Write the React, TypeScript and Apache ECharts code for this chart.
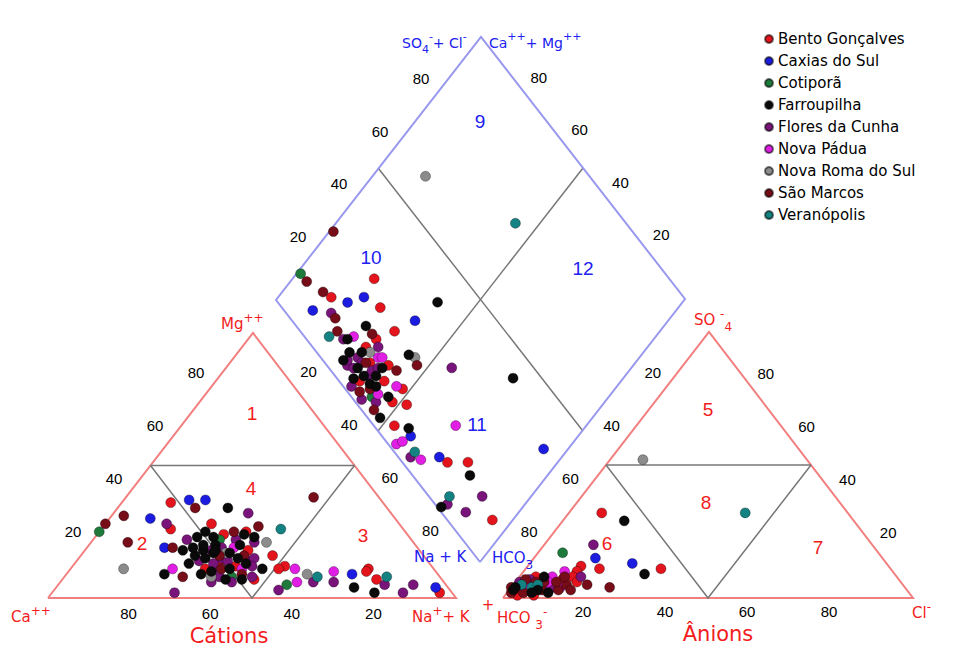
import React, { useEffect, useRef } from "react";
import * as echarts from "echarts";

// ---------------- DATA ----------------
const cities = [
  "Bento Gonçalves",
  "Caxias do Sul",
  "Cotiporã",
  "Farroupilha",
  "Flores da Cunha",
  "Nova Pádua",
  "Nova Roma do Sul",
  "São Marcos",
  "Veranópolis",
];
const cityColors = [
  "#e3141c",
  "#1c1ce0",
  "#1d7a3a",
  "#0a0a0a",
  "#78147a",
  "#e01ee4",
  "#8c8c8c",
  "#760d18",
  "#148282",
];

const tickValues = [20, 40, 60, 80];

// cation triangle: [city, Ca%, Mg%, Na+K%]
const cationSamples: number[][] = [
  [7, 16, 38, 46], [0, 52, 36, 12], [1, 47, 37, 16], [1, 43, 37, 20], [7, 47, 34, 19],
  [3, 39, 34, 27], [4, 35, 32, 33], [7, 66, 31, 3], [1, 60, 30, 10], [4, 57, 28, 15],
  [0, 57, 26, 17], [0, 46, 28, 26], [7, 35, 27, 38], [8, 30, 26, 44], [7, 72, 28, 0],
  [2, 75, 25, 0], [7, 70, 21, 9], [1, 62, 19, 19], [7, 60, 19, 21], [6, 76, 11, 13],
  [3, 67, 9, 24], [5, 64, 11, 25], [7, 63, 8, 29], [4, 68, 2, 30], [3, 58, 18, 24],
  [4, 55, 22, 23], [3, 52, 23, 25], [3, 49, 25, 26], [3, 48, 23, 29], [0, 45, 24, 31],
  [7, 42, 25, 33], [3, 40, 24, 36], [0, 39, 25, 36], [3, 38, 23, 39], [3, 49, 20, 31],
  [4, 51, 18, 31], [6, 48, 17, 35], [5, 45, 19, 36], [3, 43, 20, 37], [0, 42, 18, 40],
  [4, 39, 21, 40], [2, 47, 22, 31], [3, 53, 18, 29], [3, 56, 16, 28], [4, 56, 14, 30],
  [3, 54, 15, 31], [0, 51, 14, 35], [4, 50, 15, 35], [4, 49, 14, 37], [3, 46, 15, 39],
  [4, 44, 14, 42], [4, 42, 15, 43], [3, 59, 13, 28], [0, 56, 11, 33], [4, 54, 11, 35],
  [7, 52, 11, 37], [3, 50, 11, 39], [5, 47, 11, 42], [4, 44, 12, 44], [6, 56, 8, 36],
  [4, 54, 8, 38], [2, 51, 8, 41], [7, 48, 9, 43], [4, 46, 8, 46], [0, 46, 7, 47],
  [4, 57, 6, 37], [4, 52, 6, 42], [3, 49, 7, 44], [3, 53, 7, 40], [3, 55, 19, 26],
  [3, 52, 20, 28], [3, 51, 17, 32], [4, 43, 22, 35], [7, 44, 16, 40], [3, 58, 9, 33],
  [0, 48, 12, 40], [3, 50, 18, 32], [3, 47, 17, 36], [4, 53, 13, 34], [3, 45, 13, 42],
  [7, 50, 16, 34], [3, 55, 10, 35], [4, 48, 19, 33],
  [0, 37, 16, 47], [3, 42, 11, 47], [6, 36, 21, 43], [0, 36, 12, 52],
  [0, 38, 11, 51], [5, 34, 11, 55], [6, 32, 9, 59], [8, 30, 8, 62], [2, 39, 5, 56],
  [5, 36, 6, 58], [4, 42, 3, 55], [4, 32, 6, 62], [5, 25, 10, 65], [4, 27, 6, 67],
  [1, 21, 9, 70], [0, 16, 11, 73], [0, 17, 10, 73], [3, 23, 4, 73], [0, 16, 7, 77],
  [8, 13, 8, 79], [4, 15, 5, 80], [3, 19, 2, 79], [4, 12, 2, 86], [4, 8, 5, 87],
  [1, 3, 4, 93], [0, 3, 2, 95],
];

// anion triangle: [city, HCO3%, SO4%, Cl%]
const anionSamples: number[][] = [
  [6, 40, 52, 8], [8, 25, 32, 43], [0, 60, 32, 8], [3, 56, 29, 15], [2, 77, 17, 6],
  [4, 68, 20, 12], [1, 70, 15, 15], [1, 62, 13, 25], [0, 56, 11, 33], [3, 61, 9, 30],
  [0, 71, 11, 18], [7, 72, 4, 24], [0, 75, 12, 13], [4, 77, 8, 15], [7, 77, 5, 18],
  [0, 77, 10, 13], [7, 97, 2, 1], [3, 96, 3, 1], [8, 93, 5, 2], [7, 94, 2, 4],
  [8, 91, 4, 5], [0, 92, 1, 7], [7, 89, 6, 5], [3, 86, 8, 6], [5, 88, 4, 8],
  [0, 85, 6, 9], [5, 84, 8, 8], [7, 85, 3, 12], [0, 82, 7, 11], [5, 80, 10, 10],
  [7, 82, 5, 13], [0, 79, 8, 13], [4, 90, 7, 3], [7, 89, 3, 8], [3, 88, 2, 10],
  [0, 96, 1, 3], [5, 84, 4, 12], [0, 90, 5, 5], [0, 86, 7, 7], [7, 96, 4, 0],
  [7, 82, 3, 15], [0, 79, 6, 15], [1, 88, 5, 7], [5, 91, 3, 6], [4, 87, 5, 8],
  [2, 93, 4, 3], [3, 95, 4, 1], [4, 93, 6, 1], [5, 92, 5, 3], [7, 91, 7, 2],
  [0, 94, 3, 3], [3, 90, 3, 7], [8, 89, 5, 6], [7, 87, 6, 7], [4, 86, 4, 10],
  [5, 86, 6, 8], [0, 88, 8, 4], [7, 84, 6, 10], [3, 92, 2, 6], [1, 90, 6, 4],
  [7, 81, 8, 11],
];

// diamond: [city, Ca+Mg %, SO4+Cl %]
const diamondSamples: number[][] = [
  [6, 87, 60], [8, 56, 73], [7, 99, 27], [2, 99, 11], [7, 96, 11], [0, 80, 28],
  [7, 90, 13], [0, 87, 14], [1, 82, 17], [1, 79, 22], [1, 89, 7], [0, 73, 24],
  [4, 84, 11], [7, 82, 11], [3, 60, 39], [1, 62, 30], [0, 65, 23], [8, 80, 6],
  [3, 73, 17], [0, 68, 17], [3, 57, 22], [6, 55, 23], [7, 53, 22], [4, 44, 30],
  [3, 27, 43], [5, 54, 13], [0, 52, 14], [0, 48, 12], [3, 52, 3], [0, 47, 5],
  [5, 32, 20], [3, 43, 8], [5, 43, 2], [5, 42, 4], [8, 37, 5], [4, 37, 3],
  [5, 34, 5], [1, 30, 10], [0, 27, 11], [0, 22, 16], [1, 6, 37], [3, 19, 14],
  [8, 20, 5], [3, 20, 1], [4, 19, 3], [4, 12, 13], [4, 13, 6], [0, 5, 11],
  [1, 41, 7], [7, 79, 9], [4, 76, 9], [5, 74, 12], [7, 70, 17], [6, 67, 13],
  [4, 66, 16], [5, 64, 14], [3, 72, 8], [3, 72, 5], [4, 69, 9], [4, 67, 9],
  [4, 70, 5], [0, 65, 11], [3, 61, 13], [0, 60, 15], [7, 57, 16], [3, 66, 4],
  [0, 64, 5], [4, 63, 8], [3, 61, 10], [0, 58, 11], [4, 65, 2], [7, 62, 3],
  [3, 61, 7], [2, 58, 5], [5, 57, 7], [3, 54, 9], [0, 52, 9], [7, 55, 3],
  [4, 60, 2], [4, 71, 6], [3, 67, 7], [4, 63, 10], [5, 63, 15], [3, 69, 11],
  [4, 68, 6], [7, 66, 10], [3, 64, 7], [4, 62, 12], [3, 59, 8], [7, 60, 6],
  [4, 56, 5], [0, 69, 13], [3, 75, 10],
];

// ---------------- LAYOUT ----------------
const W = 962;
const H = 647;
const CAT = { ca: [48, 598], na: [456, 598], mg: [253, 333] };
const AN = { hco3: [503, 598], cl: [913, 598], so4: [709, 332] };
const DIA = { bottom: [480, 562], left: [276, 300], right: [685, 299] };

const FONT = '"Liberation Sans", Arial, sans-serif';
const WFONT = '"DejaVu Sans", Verdana, sans-serif';
const RED = "#f21c1c";
const BLUE = "#2020f0";

function cationXY(ca: number, mg: number, na: number): number[] {
  return [
    (ca * CAT.ca[0] + mg * CAT.mg[0] + na * CAT.na[0]) / 100,
    (ca * CAT.ca[1] + mg * CAT.mg[1] + na * CAT.na[1]) / 100,
  ];
}
function anionXY(hco3: number, so4: number, cl: number): number[] {
  return [
    (hco3 * AN.hco3[0] + so4 * AN.so4[0] + cl * AN.cl[0]) / 100,
    (hco3 * AN.hco3[1] + so4 * AN.so4[1] + cl * AN.cl[1]) / 100,
  ];
}
function diamondXY(caMg: number, so4Cl: number): number[] {
  const b = DIA.bottom;
  return [
    b[0] + (caMg / 100) * (DIA.left[0] - b[0]) + (so4Cl / 100) * (DIA.right[0] - b[0]),
    b[1] + (caMg / 100) * (DIA.left[1] - b[1]) + (so4Cl / 100) * (DIA.right[1] - b[1]),
  ];
}

type Part = [string, "n" | "sub" | "sup"];
function richLabel(x: number, y: number, parts: Part[], color: string, size: number, family = WFONT) {
  const text = parts.map(([t, k]) => `{${k}|${t}}`).join("");
  const small = Math.round(size * 0.8);
  return {
    type: "text",
    x,
    y,
    silent: true,
    z: 10,
    style: {
      text,
      fill: color,
      fontSize: size,
      fontFamily: family,
      align: "left",
      verticalAlign: "middle",
      rich: {
        n: { fontSize: size, fontFamily: family, lineHeight: size + 10, verticalAlign: "middle", fill: color },
        sub: { fontSize: small, fontFamily: family, lineHeight: small, verticalAlign: "bottom", fill: color },
        sup: { fontSize: small, fontFamily: family, lineHeight: small, verticalAlign: "top", fill: color },
      },
    },
  };
}
function plainText(x: number, y: number, text: string, color: string, size: number, family = FONT, align = "center") {
  return {
    type: "text",
    x,
    y,
    silent: true,
    z: 10,
    style: { text, fill: color, fontSize: size, fontFamily: family, align, verticalAlign: "middle" },
  };
}

function buildOption() {
  const redFrames = [
    { coords: [CAT.ca, CAT.na, CAT.mg, CAT.ca] },
    { coords: [AN.hco3, AN.cl, AN.so4, AN.hco3] },
  ];
  const grayFrames = [
    { coords: [cationXY(50, 50, 0), cationXY(0, 50, 50)] },
    { coords: [cationXY(50, 50, 0), cationXY(50, 0, 50), cationXY(0, 50, 50)] },
    { coords: [anionXY(50, 50, 0), anionXY(0, 50, 50)] },
    { coords: [anionXY(50, 50, 0), anionXY(50, 0, 50), anionXY(0, 50, 50)] },
    { coords: [diamondXY(50, 0), diamondXY(50, 100)] },
    { coords: [diamondXY(0, 50), diamondXY(100, 50)] },
  ];
  const blueFrames = [
    { coords: [diamondXY(0, 0), diamondXY(100, 0), diamondXY(100, 100), diamondXY(0, 100), diamondXY(0, 0)] },
  ];

  const perCity: number[][][] = cities.map(() => []);
  cationSamples.forEach(([c, ca, mg, na]) => perCity[c].push(cationXY(ca, mg, na)));
  anionSamples.forEach(([c, h, s, cl]) => perCity[c].push(anionXY(h, s, cl)));
  diamondSamples.forEach(([c, cm, sc]) => perCity[c].push(diamondXY(cm, sc)));

  const graphics: any[] = [];
  const addTick = (p: number[], off: number[], v: number) =>
    graphics.push(plainText(p[0] + off[0], p[1] + off[1], String(v), "#000", 15));
  tickValues.forEach((v) => {
    addTick(cationXY(100 - v, v, 0), [-16, -14], v);
    addTick(cationXY(v, 0, 100 - v), [-1, 15], v);
    addTick(cationXY(0, 100 - v, v), [15, -15], v);
    addTick(anionXY(v, 100 - v, 0), [-15, -13], v);
    addTick(anionXY(0, v, 100 - v), [16, -12], v);
    addTick(anionXY(100 - v, 0, v), [-2, 13], v);
    addTick(diamondXY(100, v), [-19, -11], v);
    addTick(diamondXY(v, 100), [17, -12], v);
  });

  const redZones: [string, number, number][] = [
    ["1", 252, 413], ["2", 142, 543], ["3", 363, 535], ["4", 251, 488],
    ["5", 708, 409], ["6", 607, 543], ["7", 818, 547], ["8", 706, 502],
  ];
  const blueZones: [string, number, number][] = [
    ["9", 480, 121], ["10", 371, 257], ["11", 477, 424], ["12", 583, 268],
  ];
  redZones.forEach(([t, x, y]) => graphics.push(plainText(x, y, t, RED, 19)));
  blueZones.forEach(([t, x, y]) => graphics.push(plainText(x, y, t, BLUE, 19)));

  graphics.push(richLabel(402, 43, [["SO", "n"], ["4", "sub"], ["-", "sup"], ["+ Cl", "n"], ["-", "sup"]], BLUE, 14));
  graphics.push(richLabel(489, 43, [["Ca", "n"], ["++", "sup"], ["+ Mg", "n"], ["++", "sup"]], BLUE, 14));
  graphics.push(richLabel(221, 324, [["Mg", "n"], ["++", "sup"]], RED, 15));
  graphics.push(richLabel(11, 617, [["Ca", "n"], ["++", "sup"]], RED, 15));
  graphics.push(richLabel(412, 617, [["Na", "n"], ["+", "sup"], ["+ K", "n"]], RED, 15));
  graphics.push(plainText(488, 605, "+", RED, 15, WFONT));
  graphics.push(richLabel(497, 618, [["HCO ", "n"], ["3", "sub"], ["-", "sup"]], RED, 15));
  graphics.push(richLabel(694, 320, [["SO ", "n"], ["-", "sup"], ["4", "sub"]], RED, 15));
  graphics.push(richLabel(912, 613, [["Cl", "n"], ["-", "sup"]], RED, 15));
  graphics.push(plainText(229, 636, "Cátions", RED, 21, WFONT));
  graphics.push(plainText(718, 634, "Ânions", RED, 21, WFONT));
  graphics.push(plainText(414, 557, "Na + K", BLUE, 15, WFONT, "left"));
  graphics.push(richLabel(492, 558, [["HCO", "n"], ["3", "sub"]], BLUE, 15));

  const lineSeries = (name: string, data: any[], color: string, width: number) => ({
    type: "lines",
    name,
    coordinateSystem: "cartesian2d",
    polyline: true,
    silent: true,
    z: 1,
    lineStyle: { color, width, opacity: 1, curveness: 0 },
    data,
  });

  return {
    animation: false,
    backgroundColor: "#ffffff",
    grid: { left: 0, right: 0, top: 0, bottom: 0 },
    xAxis: { type: "value", min: 0, max: W, show: false },
    yAxis: { type: "value", min: 0, max: H, inverse: true, show: false },
    legend: {
      orient: "vertical",
      left: 759,
      top: 26,
      icon: "circle",
      itemWidth: 8,
      itemHeight: 8,
      itemGap: 6,
      data: cities,
      textStyle: { fontFamily: WFONT, fontSize: 15, color: "#000", lineHeight: 16 },
    },
    graphic: graphics,
    series: [
      lineSeries("frameRed", redFrames, "#f27f7f", 2),
      lineSeries("frameGray", grayFrames, "#777777", 1.5),
      lineSeries("frameBlue", blueFrames, "#9898ee", 2),
      ...cities.map((name, i) => ({
        type: "scatter",
        name,
        z: i === 3 ? 4 : 3,
        symbol: "circle",
        symbolSize: 10,
        itemStyle: { color: cityColors[i], borderColor: "rgba(0,0,0,0.55)", borderWidth: 0.6, opacity: 1 },
        data: perCity[i],
      })),
    ],
  };
}

export default function App() {
  const ref = useRef<HTMLDivElement>(null);
  useEffect(() => {
    document.body.style.margin = "0";
    const chart = echarts.init(ref.current!, null, { renderer: "svg" });
    chart.setOption(buildOption() as any);
    return () => chart.dispose();
  }, []);
  return <div ref={ref} style={{ width: W, height: H, background: "#fff" }} />;
}
